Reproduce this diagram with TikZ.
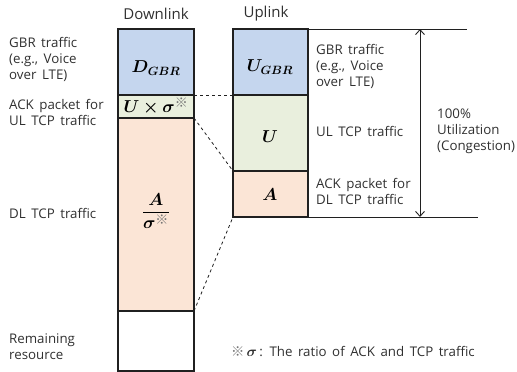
\documentclass[tikz,border=0pt]{standalone}
\usepackage{fontspec}
\usepackage{amsmath,bm}
\setmainfont{Open Sans}[WordSpace=1.6]
\newfontfamily\cjk{Noto Sans CJK KR}
\usetikzlibrary{arrows.meta}
\definecolor{gbrblue}{HTML}{C5D6EE}
\definecolor{ulgreen}{HTML}{E9EFDD}
\definecolor{dlpeach}{HTML}{FBE5D6}
\definecolor{edge}{HTML}{202020}
\definecolor{txt}{HTML}{303030}
\newcommand{\refmark}{{\cjk\char"203B}}
\newcommand{\supmark}{\raisebox{-1pt}{\fontsize{13}{13}\selectfont\color{black!55}\refmark}}
\tikzset{
  seg/.style={draw=edge, line width=1.2pt, inner sep=0pt, outer sep=0pt, anchor=north west, minimum width=76pt},
  lbl/.style={align=left, anchor=west, inner sep=0pt, font=\fontsize{13.3}{16}\selectfont, text=txt},
  ttl/.style={inner sep=0pt, font=\fontsize{15}{18}\selectfont, text=txt},
  mth/.style={inner sep=0pt, font=\fontsize{16.5}{19}\selectfont},
  conn/.style={dashed, line width=0.8pt, edge},
  rule/.style={line width=0.9pt, edge}
}
\begin{document}
\begin{tikzpicture}[x=1pt,y=-1pt]
\useasboundingbox (0,0) rectangle (517,372);
% Downlink column
\node[seg, fill=gbrblue, minimum height=66pt] (dgbr) at (118,29) {};
\node[seg, fill=ulgreen, minimum height=23pt] (dack) at (118,95) {};
\node[seg, fill=dlpeach, minimum height=193pt] (dtcp) at (118,118) {};
\node[seg, fill=white, minimum height=60pt] (drem) at (118,311) {};
% Uplink column
\node[seg, minimum width=75pt, fill=gbrblue, minimum height=66pt] (ugbr) at (233,29) {};
\node[seg, minimum width=75pt, fill=ulgreen, minimum height=76pt] (uu) at (233,95) {};
\node[seg, minimum width=75pt, fill=dlpeach, minimum height=46pt] (ua) at (233,171) {};
% math labels
\node[mth] (mdgbr) at (156,68) {$\bm{D_{GBR}}$};
\node[mth] (mdack) at (156,106) {$\bm{U\times\sigma}^{\supmark}$};
\node[mth] (mdtcp) at (156,211) {$\dfrac{\bm{A}}{\bm{\sigma}^{\supmark}}$};
\node[mth] (mugbr) at (270,67) {$\bm{U_{GBR}}$};
\node[mth] (muu) at (270,137) {$\bm{U}$};
\node[mth] (mua) at (270,195) {$\bm{A}$};
% titles
\node[ttl] (tdl) at (156,14) {Downlink};
\node[ttl] (tul) at (266,14) {Uplink};
% left labels
\node[lbl] (l1) at (9,59) {GBR traffic\\(e.g., Voice\\over LTE)};
\node[lbl] (l2) at (9,112) {ACK packet for\\UL TCP traffic};
\node[lbl] (l3) at (9,213) {DL TCP traffic};
\node[lbl] (l4) at (9,347) {Remaining\\resource};
% right labels
\node[lbl] (r1) at (316,66) {GBR traffic\\(e.g., Voice\\over LTE)};
\node[lbl] (r2) at (316,131) {UL TCP traffic};
\node[lbl] (r3) at (316,191) {ACK packet for\\DL TCP traffic};
\node[lbl] (r4) at (437,131) {100\%\\Utilization\\(Congestion)};
\node[lbl] (note) at (231,352) {{\color{black!55}\refmark}\,$\bm{\sigma}$\,: The ratio of ACK and TCP traffic};
% connectors
\draw[conn] (dgbr.south east) -- (ugbr.south west);
\draw[conn] (dack.south east) -- (uu.south west);
\draw[conn] (dtcp.south east) -- (ua.south west);
\coordinate (tr) at (467,29);
\coordinate (br) at (478,217);
\coordinate (at) at (420,29);
\coordinate (ab) at (420,217);
\draw[rule] (ugbr.north east) -- (tr);
\draw[rule] (ua.south east) -- (br);
\draw[rule, {Straight Barb[length=5pt,width=9pt]}-{Straight Barb[length=5pt,width=9pt]}] (at) -- (ab);
\end{tikzpicture}
\end{document}
